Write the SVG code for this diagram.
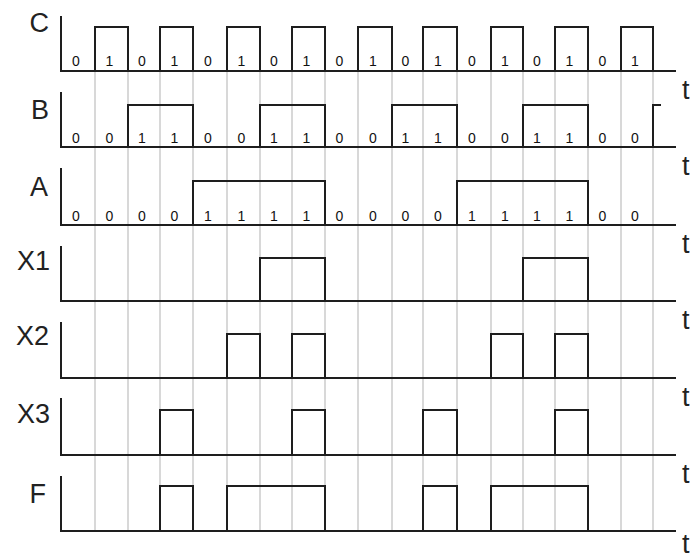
<svg xmlns="http://www.w3.org/2000/svg" width="691" height="555" viewBox="0 0 691 555">
<style>
.grid{stroke:#cbcbcb;stroke-width:1.5;fill:none}
.w{stroke:#1e1e1e;stroke-width:2;fill:none;stroke-linecap:square}
.lbl{font-family:"Liberation Sans",Arial,sans-serif;font-size:27px;fill:#222;text-anchor:end}
.t{font-family:"Liberation Sans",Arial,sans-serif;font-size:27px;fill:#222}
.d{font-family:"Liberation Sans",Arial,sans-serif;font-size:14px;fill:#111;text-anchor:middle}
</style>
<rect width="691" height="555" fill="#fff"/>
<g id="grid" class="grid">
<path d="M95 71V531M128 71V531M160 71V531M193 71V531M227 71V531M260 71V531M292 71V531M325 71V531M358 71V531M392 71V531M423 71V531M457 71V531M491 71V531M523 71V531M555 71V531M588 71V531M621 71V531M653 71V531"/>
</g>
<g id="C">
<text class="lbl" x="49" y="32">C</text>
<path class="w" d="M61 17V71H675"/>
<path class="w" d="M95 71V27H128V71M160 71V27H193V71M227 71V27H260V71M292 71V27H325V71M358 71V27H392V71M423 71V27H457V71M491 71V27H523V71M555 71V27H588V71M621 71V27H653V71"/>
<g class="d"><text x="76" y="66">0</text><text x="109.5" y="66">1</text><text x="142" y="66">0</text><text x="174.5" y="66">1</text><text x="208" y="66">0</text><text x="241.5" y="66">1</text><text x="274" y="66">0</text><text x="306.5" y="66">1</text><text x="339.5" y="66">0</text><text x="373" y="66">1</text><text x="405.5" y="66">0</text><text x="438" y="66">1</text><text x="472" y="66">0</text><text x="505" y="66">1</text><text x="537" y="66">0</text><text x="569.5" y="66">1</text><text x="602.5" y="66">0</text><text x="635" y="66">1</text></g>
<text class="t" x="682" y="99">t</text>
</g>
<g id="B">
<text class="lbl" x="49" y="119">B</text>
<path class="w" d="M61 93V147H675"/>
<path class="w" d="M128 147V105H193V147M260 147V105H325V147M392 147V105H457V147M523 147V105H588V147M653 147V105H660"/>
<g class="d"><text x="76" y="143">0</text><text x="109.5" y="143">0</text><text x="142" y="143">1</text><text x="174.5" y="143">1</text><text x="208" y="143">0</text><text x="241.5" y="143">0</text><text x="274" y="143">1</text><text x="306.5" y="143">1</text><text x="339.5" y="143">0</text><text x="373" y="143">0</text><text x="405.5" y="143">1</text><text x="438" y="143">1</text><text x="472" y="143">0</text><text x="505" y="143">0</text><text x="537" y="143">1</text><text x="569.5" y="143">1</text><text x="602.5" y="143">0</text><text x="635" y="143">0</text></g>
<text class="t" x="682" y="175">t</text>
</g>
<g id="A">
<text class="lbl" x="48" y="196">A</text>
<path class="w" d="M61 169V225H675"/>
<path class="w" d="M193 225V181H325V225M457 225V181H588V225"/>
<g class="d"><text x="76" y="221">0</text><text x="109.5" y="221">0</text><text x="142" y="221">0</text><text x="174.5" y="221">0</text><text x="208" y="221">1</text><text x="241.5" y="221">1</text><text x="274" y="221">1</text><text x="306.5" y="221">1</text><text x="339.5" y="221">0</text><text x="373" y="221">0</text><text x="405.5" y="221">0</text><text x="438" y="221">0</text><text x="472" y="221">1</text><text x="505" y="221">1</text><text x="537" y="221">1</text><text x="569.5" y="221">1</text><text x="602.5" y="221">0</text><text x="635" y="221">0</text></g>
<text class="t" x="682" y="253">t</text>
</g>
<g id="X1">
<text class="lbl" x="50" y="270">X1</text>
<path class="w" d="M61 247V301H675"/>
<path class="w" d="M260 301V258H325V301M523 301V258H588V301"/>
<text class="t" x="682" y="329">t</text>
</g>
<g id="X2">
<text class="lbl" x="49" y="345">X2</text>
<path class="w" d="M61 323V378H675"/>
<path class="w" d="M227 378V334H260V378M292 378V334H325V378M491 378V334H523V378M555 378V334H588V378"/>
<text class="t" x="682" y="406">t</text>
</g>
<g id="X3">
<text class="lbl" x="50" y="423">X3</text>
<path class="w" d="M61 399V455H675"/>
<path class="w" d="M160 455V410H193V455M292 455V410H325V455M423 455V410H457V455M555 455V410H588V455"/>
<text class="t" x="682" y="483">t</text>
</g>
<g id="F">
<text class="lbl" x="46" y="503">F</text>
<path class="w" d="M61 477V531H675"/>
<path class="w" d="M160 531V486H193V531M227 531V486H325V531M423 531V486H457V531M491 531V486H588V531"/>
<text class="t" x="682" y="553">t</text>
</g>
</svg>
